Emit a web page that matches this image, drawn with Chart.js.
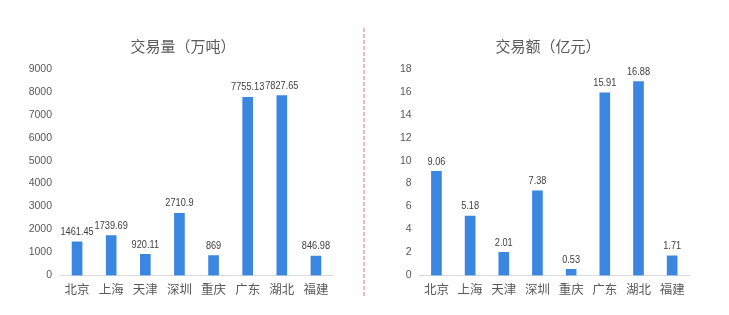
<!DOCTYPE html>
<html>
<head>
<meta charset="utf-8">
<script src="https://cdn.jsdelivr.net/npm/chart.js@4.4.0/dist/chart.umd.min.js"></script>
<style>
  html, body { margin: 0; padding: 0; background: #ffffff; }
  #wrap { position: relative; width: 729px; height: 315px; overflow: hidden; }
  .box { position: absolute; top: 0; height: 315px; }
  #divider { position: absolute; left: 363px; top: 28px; }
</style>
</head>
<body>
<div id="wrap">
  <div class="box" style="left:0;width:363px"><canvas id="c1" width="363" height="315"></canvas></div>
  <svg id="divider" width="2" height="270"><line x1="1" y1="0" x2="1" y2="270" stroke="#d27a7a" stroke-width="1" stroke-dasharray="4 2"/></svg>
  <div class="box" style="left:365px;width:364px"><canvas id="c2" width="364" height="315"></canvas></div>
</div>
<script>
const cities = ["北京", "上海", "天津", "深圳", "重庆", "广东", "湖北", "福建"];
const volume = [1461.45, 1739.69, 920.11, 2710.9, 869, 7755.13, 7827.65, 846.98];
const amount = [9.06, 5.18, 2.01, 7.38, 0.53, 15.91, 16.88, 1.71];
const titleVolume = "交易量（万吨）";
const titleAmount = "交易额（亿元）";

const CJK = '"Noto Sans CJK SC", sans-serif';
const NUM = '"Liberation Sans", sans-serif';
const BAR = '#3b86e0';
const TXT = '#595959';

const valueLabels = {
  id: 'valueLabels',
  afterDatasetsDraw(chart) {
    const ctx = chart.ctx;
    const meta = chart.getDatasetMeta(0);
    const vals = chart.data.datasets[0].data;
    ctx.save();
    ctx.font = '11.5px ' + NUM;
    ctx.fillStyle = '#404040';
    ctx.textAlign = 'center';
    ctx.textBaseline = 'middle';
    meta.data.forEach((bar, i) => {
      const t = String(vals[i]);
      const w = ctx.measureText(t).width * 0.8;
      ctx.fillText(t, bar.x, bar.y - 10, w);
    });
    ctx.restore();
  }
};

const chartTitle = {
  id: 'chartTitle',
  afterDraw(chart, args, opts) {
    const ctx = chart.ctx;
    ctx.save();
    ctx.font = '15px ' + CJK;
    ctx.fillStyle = TXT;
    ctx.textAlign = 'center';
    ctx.textBaseline = 'middle';
    ctx.fillText(opts.text, opts.x, opts.y);
    ctx.restore();
  }
};

function makeChart(id, data, title, max, step, yWidth, padRight) {
  return new Chart(document.getElementById(id), {
    type: 'bar',
    data: {
      labels: cities,
      datasets: [{ data: data, backgroundColor: BAR, barThickness: 10 }]
    },
    options: {
      responsive: false,
      animation: false,
      devicePixelRatio: 1,
      layout: { padding: { left: 0, right: padRight, top: 68.7, bottom: 0 } },
      plugins: {
        legend: { display: false },
        tooltip: { enabled: false },
        title: { display: false },
        chartTitle: { text: title, x: 183, y: 46.5 }
      },
      scales: {
        x: {
          grid: { display: false, drawTicks: false },
          border: { display: true, color: '#d9d9d9', width: 1 },
          ticks: { color: TXT, font: { family: CJK, size: 12.5 }, padding: 6, maxRotation: 0 },
          afterFit(s) { s.height = 39.5; }
        },
        y: {
          min: 0, max: max,
          grid: { display: false, drawTicks: false },
          border: { display: false },
          ticks: {
            stepSize: step, color: TXT, font: { family: NUM, size: 10.5 }, padding: 8,
            callback: (v) => String(v)
          },
          afterFit(s) { s.width = yWidth; }
        }
      }
    },
    plugins: [valueLabels, chartTitle]
  });
}

makeChart('c1', volume, titleVolume, 9000, 1000, 60, 30);
makeChart('c2', amount, titleAmount, 18, 2, 54.6, 40);
</script>
</body>
</html>
